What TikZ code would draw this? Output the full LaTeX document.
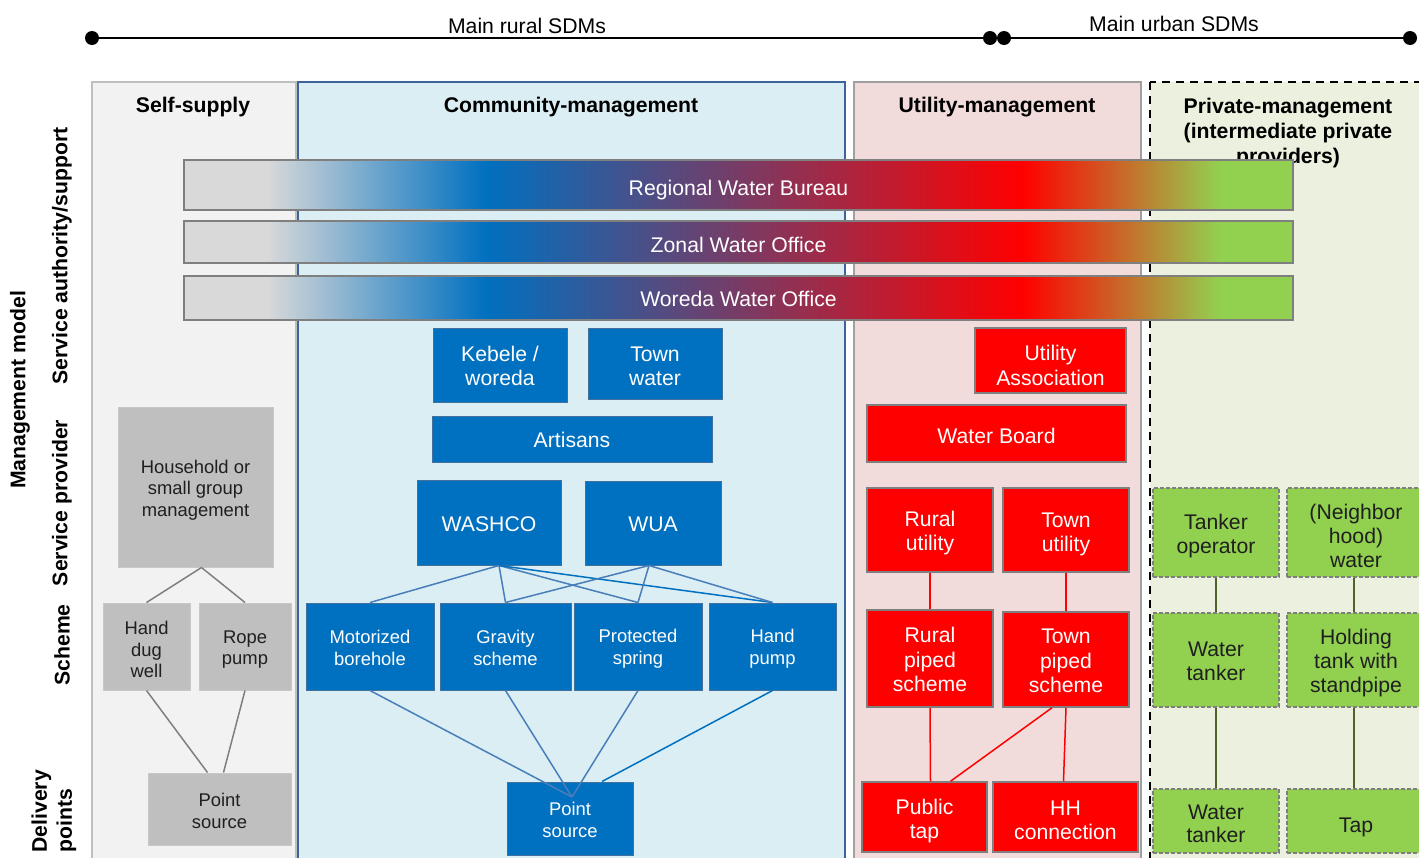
\documentclass[tikz,border=0pt]{standalone}
\usepackage{fontspec}
\setmainfont{Liberation Sans}
\usepackage{tikz}
\usetikzlibrary{shapes,positioning}

\definecolor{selfbg}{HTML}{F2F2F2}
\definecolor{commbg}{HTML}{DAEEF3}
\definecolor{utilbg}{HTML}{F2DCDB}
\definecolor{privbg}{HTML}{EBF1DE}
\definecolor{wblue}{HTML}{0070C0}
\definecolor{wgreen}{HTML}{92D050}
\definecolor{wgrey}{HTML}{BFBFBF}
\definecolor{bargrey}{HTML}{D9D9D9}
\definecolor{bordergrey}{HTML}{7F7F7F}
\definecolor{lightgrey}{HTML}{C8C8C8}
\definecolor{blueedge}{HTML}{41719C}
\definecolor{commedge}{HTML}{3C6499}
\definecolor{bluelink}{HTML}{4A7EBB}
\definecolor{olive}{HTML}{4F6228}
\definecolor{darktext}{HTML}{1F1F1F}

\pgfdeclarehorizontalshading{bureau}{100bp}{color(0bp)=(bargrey); color(25bp)=(bargrey); color(28.7bp)=(bargrey); color(38.6bp)=(wblue); color(62.8bp)=(red); color(71.7bp)=(wgreen); color(75bp)=(wgreen); color(100bp)=(wgreen)}

\begin{document}
\begin{tikzpicture}[x=0.5pt,y=-0.5pt,font=\fontsize{10.6}{12}\selectfont,
		dot node/.style={circle,fill=black,inner sep=0pt,minimum size=7pt},
		head node/.style={align=center,text depth=0pt,text height=7.6pt,font=\fontsize{10.6}{12.5}\selectfont\bfseries},
		side node/.style={rotate=90,align=center,inner sep=0pt,font=\fontsize{10.6}{12.5}\selectfont\bfseries},
		bar node/.style={draw=bordergrey,line width=0.75pt,shade,shading=bureau,text=white,inner sep=0pt,minimum width=554.5pt,text depth=0pt},
		grey node/.style={fill=wgrey,draw=lightgrey,line width=0.5pt,text=darktext,align=center,inner sep=0pt,text depth=0pt,font=\fontsize{9.2}{10.8}\selectfont},
		blue node/.style={fill=wblue,draw=blueedge,line width=0.5pt,text=white,align=center,inner sep=0pt,text depth=0pt,text height=8.6pt},
		small text/.style={font=\fontsize{9.2}{11}\selectfont},
		red node/.style={fill=red,draw=bordergrey,line width=0.75pt,text=white,align=center,inner sep=0pt,text depth=0pt,font=\fontsize{10.6}{12.3}\selectfont},
		green node/.style={fill=wgreen,draw=bordergrey,line width=0.75pt,dash pattern=on 2pt off 1pt,text=darktext,align=center,inner sep=0pt,text depth=0pt},
		grey line/.style={color=bordergrey,line width=0.75pt},
		blue line/.style={color=bluelink,line width=0.75pt},
		red line/.style={color=red,line width=0.75pt},
		green line/.style={color=olive,line width=0.75pt}]
		
		\useasboundingbox (0,0) rectangle (1419,857);
		\clip (0,0) rectangle (1419,857);
		
		% columns
		\draw[draw=wgrey,fill=selfbg,line width=1pt] (92,82) rectangle (296,880);
		\draw[draw=commedge,fill=commbg,line width=0.75pt] (298,82) rectangle (845,880);
		\draw[draw=lightgrey!80!black,fill=utilbg,line width=1pt] (854,82) rectangle (1141,880);
		\draw[draw=black,fill=privbg,line width=0.75pt,dash pattern=on 4pt off 3pt] (1150,82) rectangle (1440,880);
		
		\node[head node](h1) at (193,105) {Self-supply};
		\node[head node](h2) at (571,105) {Community-management};
		\node[head node](h3) at (997,105) {Utility-management};
		\node[head node,text height=33.1pt](h4) at (1288,130) {Private-management\\(intermediate private\\providers)};
		
		% rural / urban line
		\node[dot node](d1) at (92,38) {};
		\node[dot node](d2) at (990,38) {};
		\node[dot node](d3) at (1004,38) {};
		\node[dot node](d4) at (1410,38) {};
		\draw[line width=1pt] (d1) -- (d2) (d2) -- (d3) (d3) -- (d4);
		\node(rural) at (527,26) {Main rural SDMs};
		\node(urban) at (1174,24) {Main urban SDMs};
		
		% left labels
		\node[side node](mm) at (20,390) {Management model};
		\node[side node](sa) at (62,256) {Service authority/support};
		\node[side node](sp) at (62,503) {Service provider};
		\node[side node](sc) at (62,645) {Scheme};
		\node[side node,align=left,anchor=west](dp) at (54,853) {Delivery\\points};
		
		% authorities
		\node[bar node,minimum height=25pt,text height=10.6pt](rwb) at (738.5,185) {Regional Water Bureau};
		\node[bar node,minimum height=21pt,text height=10.6pt](zwo) at (738.5,242) {Zonal Water Office};
		\node[bar node,minimum height=22pt,text height=8.6pt](wwo) at (738.5,298) {Woreda Water Office};
		
		% self-supply
		\node[grey node,minimum width=77.5pt,minimum height=80pt,text height=29.2pt](hh) at (195.5,487) {Household or\\small group\\management};
		\node[grey node,minimum width=43.5pt,minimum height=43.5pt,text height=31.2pt](dug) at (146.5,646.5) {Hand\\dug\\well};
		\node[grey node,minimum width=46pt,minimum height=43.5pt,text height=18.4pt](rope) at (245,646.5) {Rope\\pump};
		\node[grey node,minimum width=71.5pt,minimum height=36pt,text height=19.4pt](ps1) at (219.5,809) {Point\\source};
		
		% community
		\node[blue node,minimum width=67pt,minimum height=37pt,text height=20.6pt](keb) at (500,365) {Kebele /\\woreda};
		\node[blue node,minimum width=67pt,minimum height=35.5pt,text height=21.6pt](tw) at (655,363.5) {Town\\water};
		\node[blue node,minimum width=140pt,minimum height=23pt](art) at (572,439) {Artisans};
		\node[blue node,minimum width=72pt,minimum height=42.5pt](washco) at (489,522.5) {WASHCO};
		\node[blue node,minimum width=68pt,minimum height=42pt](wua) at (653,523) {WUA};
		\node[blue node,small text,minimum width=64pt,minimum height=43.5pt,text height=18.6pt](mot) at (370,646.5) {Motorized\\borehole};
		\node[blue node,small text,minimum width=65.5pt,minimum height=43.5pt,text height=18.6pt](grav) at (505.5,646.5) {Gravity\\scheme};
		\node[blue node,small text,minimum width=64pt,minimum height=43.5pt,text height=17.6pt](prot) at (638,646.5) {Protected\\spring};
		\node[blue node,small text,minimum width=63.5pt,minimum height=43.5pt,text height=17.6pt](hp) at (772.5,646.5) {Hand\\pump};
		\node[blue node,small text,minimum width=63pt,minimum height=36.5pt,text height=18.6pt](ps2) at (570,818.5) {Point\\source};
		\coordinate (meet) at (572,797);
		
		% utility
		\node[red node,minimum width=75.5pt,minimum height=32.5pt,text height=24.9pt](ua) at (1050.5,360.5) {Utility\\Association};
		\node[red node,minimum width=129.5pt,minimum height=28.5pt,text height=9.6pt](wb) at (996.5,433.5) {Water Board};
		\node[red node,minimum width=63pt,minimum height=42pt,text height=20.9pt](ru) at (930,530) {Rural\\utility};
		\node[red node,minimum width=63pt,minimum height=42pt,text height=21.9pt](tu)[right of=ru,node distance=68pt] {Town\\utility};
		\node[red node,minimum width=63pt,minimum height=48.5pt,text height=33.2pt](rps) at (930,658.5) {Rural\\piped\\scheme};
		\node[red node,minimum width=63pt,minimum height=47.5pt,text height=33.2pt](tps) at (1066,659.5) {Town\\piped\\scheme};
		\node[red node,minimum width=62.5pt,minimum height=35pt,text height=21.9pt](pt) at (924.5,817) {Public\\tap};
		\node[red node,minimum width=72.5pt,minimum height=35pt,text height=22.9pt](hhc) at (1065.5,817) {HH\\connection};
		
		% private
		\node[green node,minimum width=63pt,minimum height=44.5pt,text height=20.6pt](top) at (1216,532.5) {Tanker\\operator};
		\node[green node,minimum width=69pt,minimum height=44.5pt,text height=34.6pt](nbh)[right of=top,node distance=70pt] {(Neighbor\\hood)\\water};
		\node[green node,minimum width=63pt,minimum height=47pt,text height=20.6pt](wt1) at (1216,660) {Water\\tanker};
		\node[green node,minimum width=69pt,minimum height=47pt,text height=32.6pt](hold)[right of=wt1,node distance=70pt] {Holding\\tank with\\standpipe};
		\node[green node,font=\fontsize{10.6}{11.5}\selectfont,minimum width=63pt,minimum height=32pt,text height=21.1pt](wt2) at (1216,821) {Water\\tanker};
		\node[green node,minimum width=69pt,minimum height=32pt,text height=11.6pt](tap)[right of=wt2,node distance=70pt] {Tap};
		
		\path[grey line]
		([xshift=3pt]hh.south) edge (dug.north)
		([xshift=3pt]hh.south) edge (rope.north)
		(dug.south) edge ([xshift=-6pt]ps1.north)
		(rope.south) edge ([xshift=2pt]ps1.north);
		
		\path[blue line]
		([xshift=5pt]washco.south) edge (mot.north)
		([xshift=5pt]washco.south) edge (grav.north)
		([xshift=5pt]washco.south) edge (prot.north)
		([xshift=5pt]washco.south) edge [color=wblue] (hp.north)
		([xshift=-2pt]wua.south) edge (grav.north)
		([xshift=-2pt]wua.south) edge (prot.north)
		([xshift=-2pt]wua.south) edge (hp.north)
		(mot.south) edge (meet)
		(grav.south) edge (meet)
		(prot.south) edge (meet)
		(hp.south) edge [color=wblue] ([xshift=16pt]ps2.north);
		
		\path[red line]
		(ru.south) edge (rps.north)
		(tu.south) edge (tps.north)
		(rps.south) edge ([xshift=3pt]pt.north)
		([xshift=-7pt]tps.south) edge ([xshift=13pt]pt.north)
		(tps.south) edge ([xshift=-1pt]hhc.north);
		
		\path[green line]
		(top.south) edge (wt1.north)
		(wt1.south) edge (wt2.north)
		([xshift=-1pt]nbh.south) edge ([xshift=-1pt]hold.north)
		([xshift=-1pt]hold.south) edge ([xshift=-1pt]tap.north);
		
	\end{tikzpicture}
\end{document}
